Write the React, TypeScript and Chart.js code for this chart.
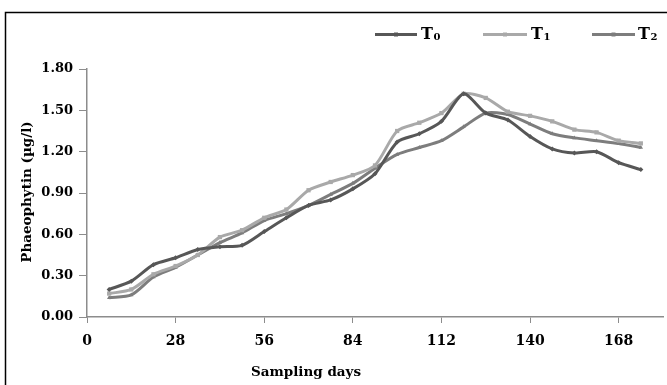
import React, { useEffect, useRef } from "react";
import { Chart, registerables } from "chart.js";

Chart.register(...registerables);

const days = [7, 14, 21, 28, 35, 42, 49, 56, 63, 70, 77, 84, 91, 98, 105, 112, 119, 126, 133, 140, 147, 154, 161, 168, 175];
const t0 = [0.20, 0.26, 0.38, 0.43, 0.49, 0.51, 0.52, 0.62, 0.72, 0.81, 0.85, 0.93, 1.04, 1.27, 1.33, 1.42, 1.62, 1.48, 1.43, 1.31, 1.22, 1.19, 1.20, 1.12, 1.07];
const t1 = [0.17, 0.20, 0.31, 0.37, 0.45, 0.58, 0.63, 0.72, 0.78, 0.92, 0.98, 1.03, 1.10, 1.35, 1.41, 1.48, 1.62, 1.59, 1.49, 1.46, 1.42, 1.36, 1.34, 1.28, 1.26];
const t2 = [0.14, 0.16, 0.29, 0.36, 0.45, 0.54, 0.61, 0.70, 0.75, 0.81, 0.89, 0.97, 1.08, 1.18, 1.23, 1.28, 1.38, 1.48, 1.47, 1.40, 1.33, 1.30, 1.28, 1.26, 1.23];
const seriesNames = ["0", "1", "2"];
const xTicks = [0, 28, 56, 84, 112, 140, 168];
const yTicks = [0, 0.3, 0.6, 0.9, 1.2, 1.5, 1.8];
const xTitle = "Sampling days";
const yTitle = "Phaeophytin (µg/l)";

const colors = ["#575757", "#a9a9a9", "#7d7d7d"];
const shapes = ["rectRot", "rect", "triangle"];
const FONT = "'DejaVu Serif', serif";

export default function App() {
  const ref = useRef<HTMLCanvasElement>(null);
  useEffect(() => {
    const canvas = ref.current!;
    const all = [t0, t1, t2];
    const decor = {
      id: "decor",
      afterDraw(chart: any) {
        const ctx = chart.ctx;
        ctx.save();
        // outer frame
        ctx.strokeStyle = "#000";
        ctx.lineWidth = 1.5;
        ctx.beginPath();
        ctx.moveTo(5.5, 400);
        ctx.lineTo(5.5, 12.5);
        ctx.lineTo(700, 12.5);
        ctx.stroke();
        // legend
        const items = [
          { x1: 375, x2: 417, tx: 421 },
          { x1: 483, x2: 527, tx: 531 },
          { x1: 592, x2: 635, tx: 638 },
        ];
        const ly = 34.5;
        items.forEach((it, i) => {
          ctx.strokeStyle = colors[i];
          ctx.lineWidth = 3;
          ctx.beginPath();
          ctx.moveTo(it.x1, ly);
          ctx.lineTo(it.x2, ly);
          ctx.stroke();
          const cx = (it.x1 + it.x2) / 2;
          ctx.fillStyle = colors[i];
          ctx.beginPath();
          ctx.rect(cx - 2, ly - 2, 4, 4);
          ctx.fill();
          ctx.fillStyle = "#000";
          ctx.textBaseline = "middle";
          ctx.textAlign = "left";
          ctx.font = `bold 16px ${FONT}`;
          ctx.fillText("T", it.tx, ly);
          const w = ctx.measureText("T").width;
          ctx.font = `bold 10px ${FONT}`;
          ctx.fillText(seriesNames[i], it.tx + w + 0.5, ly + 3);
        });
        // axis titles
        ctx.fillStyle = "#000";
        ctx.font = `bold 13.5px ${FONT}`;
        ctx.textAlign = "center";
        ctx.textBaseline = "middle";
        ctx.fillText(xTitle, 306, 372);
        ctx.save();
        ctx.translate(27.5, 192);
        ctx.rotate(-Math.PI / 2);
        ctx.fillText(yTitle, 0, 0);
        ctx.restore();
        ctx.restore();
      },
    };
    const chart = new Chart(canvas, {
      type: "line",
      data: {
        datasets: all.map((vals, i) => ({
          label: "T" + seriesNames[i],
          data: days.map((d, j) => ({ x: d, y: vals[j] })),
          borderColor: colors[i],
          backgroundColor: colors[i],
          borderWidth: 3,
          pointStyle: shapes[i] as any,
          pointRadius: i === 1 ? 3 : 2.5,
          pointBorderWidth: 0,
          tension: 0.25,
          fill: false,
        })),
      },
      options: {
        animation: false,
        responsive: false,
        devicePixelRatio: 1,
        layout: { padding: { top: 69, right: 2, left: 0, bottom: 0 } },
        plugins: { legend: { display: false }, tooltip: { enabled: false } },
        scales: {
          x: {
            type: "linear",
            min: 0,
            max: 182,
            afterBuildTicks: (s: any) => {
              s.ticks = xTicks.map((v) => ({ value: v }));
            },
            afterFit: (s: any) => {
              s.height = 68;
            },
            grid: { drawOnChartArea: false, tickLength: 6, color: "#8c8c8c" },
            border: { color: "#8c8c8c", width: 1.5 },
            ticks: {
              padding: 10,
              maxRotation: 0,
              color: "#000",
              font: { family: FONT, size: 14, weight: "bold" },
            },
          },
          y: {
            min: 0,
            max: 1.8,
            afterBuildTicks: (s: any) => {
              s.ticks = yTicks.map((v) => ({ value: v }));
            },
            afterFit: (s: any) => {
              s.width = 87;
            },
            grid: { drawOnChartArea: false, tickLength: 8, color: "#8c8c8c" },
            border: { color: "#8c8c8c", width: 1.5 },
            ticks: {
              padding: 6,
              color: "#000",
              font: { family: FONT, size: 13, weight: "bold" },
              callback: (v: any) => Number(v).toFixed(2),
            },
          },
        },
      },
      plugins: [decor],
    });
    return () => chart.destroy();
  }, []);
  return (
    <div style={{ position: "fixed", left: 0, top: 0, width: 667, height: 385, background: "#fff" }}>
      <canvas ref={ref} width={667} height={385} />
    </div>
  );
}
